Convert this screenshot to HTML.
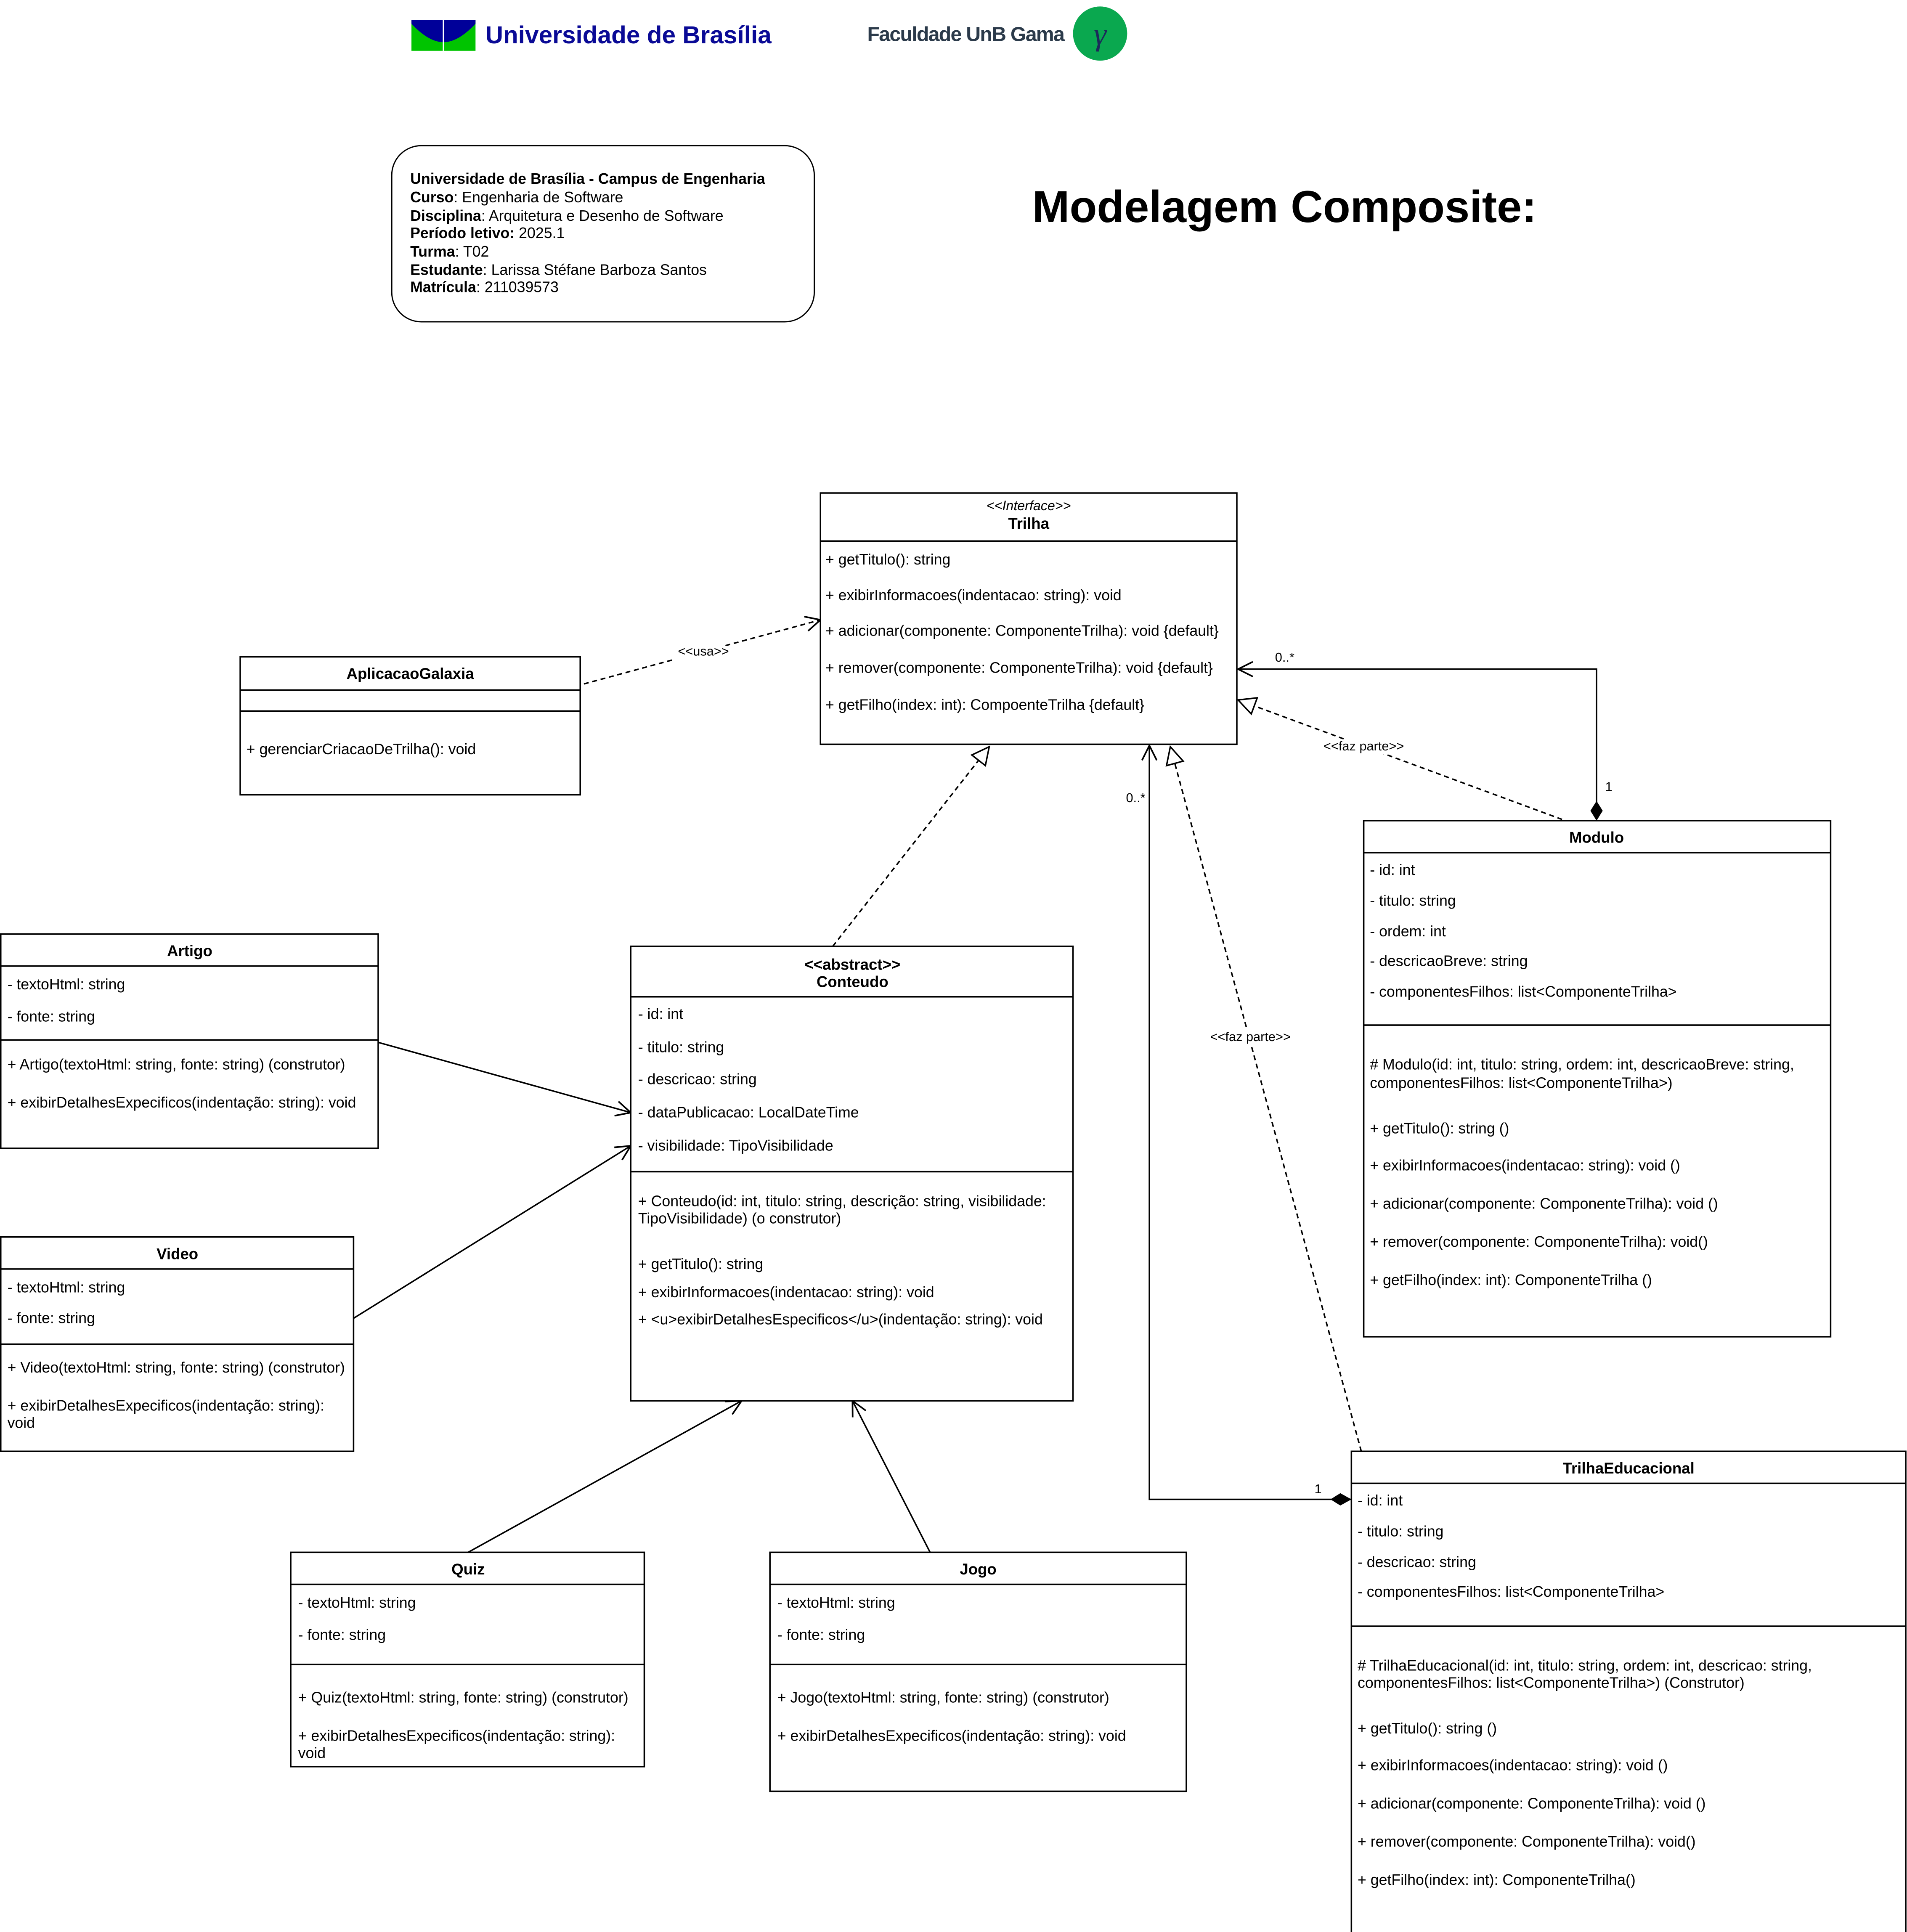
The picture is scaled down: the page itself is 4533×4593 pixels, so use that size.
<!DOCTYPE html>
<html><head><meta charset="utf-8"><style>
html,body{margin:0;padding:0;background:#fff;}
svg{display:block;}
text{font-family:"Liberation Sans",Arial,sans-serif;font-size:12.2px;fill:#000;}
.b{font-weight:bold;font-size:12.5px;}
.c{text-anchor:middle;}
.s{font-size:10.5px;}
</style></head><body>
<svg width="4533" height="4593" viewBox="0 0 1548 1568" xmlns="http://www.w3.org/2000/svg">
<defs>
<marker id="open" markerUnits="userSpaceOnUse" markerWidth="16" markerHeight="16" refX="13" refY="7" orient="auto" viewBox="0 0 16 14"><path d="M1,1 L13,7 L1,13" fill="none" stroke="#000" stroke-width="1.3"/></marker>
<marker id="tri" markerUnits="userSpaceOnUse" markerWidth="18" markerHeight="18" refX="15" refY="8" orient="auto" viewBox="0 0 18 16"><path d="M1,1 L15,8 L1,15 Z" fill="#fff" stroke="#000" stroke-width="1.2"/></marker>
</defs>
<rect width="1548" height="1568" fill="#fff"/>

<!-- logos -->
<rect x="334" y="16" width="52" height="25" fill="#00c400"/>
<path d="M334,16 L386,16 L386,19 Q372,34 360,34 Q348,34 334,19 Z" fill="#000099"/>
<line x1="360" y1="16" x2="360" y2="41" stroke="#fff" stroke-width="1.2"/>
<text x="394" y="35" style="font-size:20px;font-weight:bold;fill:#0a0a96">Universidade de Brasília</text>
<text x="704" y="33" style="font-size:16.5px;font-weight:bold;fill:#2b3a4a;letter-spacing:-0.6px">Faculdade UnB Gama</text>
<ellipse cx="893" cy="27" rx="22" ry="22" fill="#0aa84f"/>
<text x="893" y="36" class="c" style="font-size:26px;font-style:italic;fill:#1c2a5a;font-family:'Liberation Serif',serif">γ</text>

<!-- info box -->
<rect x="318" y="118" width="343" height="143" rx="24" fill="#fff" stroke="#000" stroke-width="1"/>
<text x="333" y="149"><tspan font-weight="bold">Universidade de Brasília - Campus de Engenharia</tspan></text>
<text x="333" y="164"><tspan font-weight="bold">Curso</tspan>: Engenharia de Software</text>
<text x="333" y="179"><tspan font-weight="bold">Disciplina</tspan>: Arquitetura e Desenho de Software</text>
<text x="333" y="193"><tspan font-weight="bold">Período letivo:</tspan> 2025.1</text>
<text x="333" y="208"><tspan font-weight="bold">Turma</tspan>: T02</text>
<text x="333" y="223"><tspan font-weight="bold">Estudante</tspan>: Larissa Stéfane Barboza Santos</text>
<text x="333" y="237"><tspan font-weight="bold">Matrícula</tspan>: 211039573</text>

<text x="838" y="180" style="font-size:36.3px;font-weight:bold">Modelagem Composite:</text>

<g fill="none" stroke="#000" stroke-width="1.2">
<path d="M474,555 L666,503" stroke-dasharray="4,3" marker-end="url(#open)"/>
<path d="M1296,665 L1296,543 L1005,543" marker-end="url(#open)"/>
<path d="M1268,665 L1005,568" stroke-dasharray="4,3" marker-end="url(#tri)"/>
<path d="M676,768 L803,606" stroke-dasharray="4,3" marker-end="url(#tri)"/>
<path d="M307,846 L512,903" marker-end="url(#open)"/>
<path d="M287,1070 L512,930" marker-end="url(#open)"/>
<path d="M380,1260 L602,1137" marker-end="url(#open)"/>
<path d="M755,1260 L692,1137" marker-end="url(#open)"/>
<path d="M1097,1217 L933,1217 L933,605" marker-end="url(#open)"/>
<path d="M1105,1178 L950,606" stroke-dasharray="4,3" marker-end="url(#tri)"/>
</g>
<rect x="548" y="524" width="46" height="12" fill="#fff"/>
<text x="571" y="532" class="c s">&lt;&lt;usa&gt;&gt;</text>
<rect x="1072" y="600" width="70" height="12" fill="#fff"/>
<text x="1107" y="609" class="c s">&lt;&lt;faz parte&gt;&gt;</text>
<rect x="980" y="836" width="70" height="12" fill="#fff"/>
<text x="1015" y="845" class="c s">&lt;&lt;faz parte&gt;&gt;</text>
<text x="1035" y="537" class="s">0..*</text>
<text x="1303" y="642" class="s">1</text>
<text x="914" y="651" class="s">0..*</text>
<text x="1067" y="1212" class="s">1</text>

<g fill="#fff" stroke="#000" stroke-width="1.2">
<rect x="666" y="400" width="338" height="204"/>
<line x1="666" y1="439" x2="1004" y2="439"/>
<rect x="195" y="533" width="276" height="112"/>
<line x1="195" y1="560" x2="471" y2="560"/>
<line x1="195" y1="577" x2="471" y2="577"/>
<rect x="1107" y="666" width="379" height="419"/>
<line x1="1107" y1="692" x2="1486" y2="692"/>
<line x1="1107" y1="832" x2="1486" y2="832"/>
<rect x="512" y="768" width="359" height="369"/>
<line x1="512" y1="809" x2="871" y2="809"/>
<line x1="512" y1="951" x2="871" y2="951"/>
<rect x="0.6" y="758" width="306.4" height="174"/>
<line x1="0" y1="784" x2="307" y2="784"/>
<line x1="0" y1="844" x2="307" y2="844"/>
<rect x="0.6" y="1004" width="286.4" height="174"/>
<line x1="0" y1="1030" x2="287" y2="1030"/>
<line x1="0" y1="1091" x2="287" y2="1091"/>
<rect x="236" y="1260" width="287" height="174"/>
<line x1="236" y1="1286" x2="523" y2="1286"/>
<line x1="236" y1="1351" x2="523" y2="1351"/>
<rect x="625" y="1260" width="338" height="194"/>
<line x1="625" y1="1286" x2="963" y2="1286"/>
<line x1="625" y1="1351" x2="963" y2="1351"/>
<rect x="1097" y="1178" width="450" height="392"/>
<line x1="1097" y1="1204" x2="1547" y2="1204"/>
<line x1="1097" y1="1320" x2="1547" y2="1320"/>
</g>
<path d="M1296,650 L1301,658 L1296,666 L1291,658 Z" fill="#000"/>
<path d="M1080,1217 L1088,1212 L1097,1217 L1088,1222 Z" fill="#000"/>

<text x="835" y="414" class="c" style="font-size:11px" font-style="italic">&lt;&lt;Interface&gt;&gt;</text>
<text x="835" y="429" class="c b">Trilha</text>
<text x="670" y="458">+ getTitulo(): string</text>
<text x="670" y="487">+ exibirInformacoes(indentacao: string): void</text>
<text x="670" y="516">+ adicionar(componente: ComponenteTrilha): void {default}</text>
<text x="670" y="546">+ remover(componente: ComponenteTrilha): void {default}</text>
<text x="670" y="576">+ getFilho(index: int): CompoenteTrilha {default}</text>

<text x="333" y="551" class="c b">AplicacaoGalaxia</text>
<text x="200" y="612">+ gerenciarCriacaoDeTrilha(): void</text>

<text x="1296" y="684" class="c b">Modulo</text>
<text x="1112" y="710">- id: int</text>
<text x="1112" y="735">- titulo: string</text>
<text x="1112" y="760">- ordem: int</text>
<text x="1112" y="784">- descricaoBreve: string</text>
<text x="1112" y="809">- componentesFilhos: list&lt;ComponenteTrilha&gt;</text>
<text x="1112" y="868"># Modulo(id: int, titulo: string, ordem: int, descricaoBreve: string,</text>
<text x="1112" y="883">componentesFilhos: list&lt;ComponenteTrilha&gt;)</text>
<text x="1112" y="920">+ getTitulo(): string ()</text>
<text x="1112" y="950">+ exibirInformacoes(indentacao: string): void ()</text>
<text x="1112" y="981">+ adicionar(componente: ComponenteTrilha): void ()</text>
<text x="1112" y="1012">+ remover(componente: ComponenteTrilha): void()</text>
<text x="1112" y="1043">+ getFilho(index: int): ComponenteTrilha ()</text>

<text x="692" y="787" class="c b">&lt;&lt;abstract&gt;&gt;</text>
<text x="692" y="801" class="c b">Conteudo</text>
<text x="518" y="827">- id: int</text>
<text x="518" y="854">- titulo: string</text>
<text x="518" y="880">- descricao: string</text>
<text x="518" y="907">- dataPublicacao: LocalDateTime</text>
<text x="518" y="934">- visibilidade: TipoVisibilidade</text>
<text x="518" y="979">+ Conteudo(id: int, titulo: string, descrição: string, visibilidade:</text>
<text x="518" y="993">TipoVisibilidade) (o construtor)</text>
<text x="518" y="1030">+ getTitulo(): string</text>
<text x="518" y="1053">+ exibirInformacoes(indentacao: string): void</text>
<text x="518" y="1075">+ &lt;u&gt;exibirDetalhesEspecificos&lt;/u&gt;(indentação: string): void</text>

<text x="154" y="776" class="c b">Artigo</text>
<text x="6" y="803">- textoHtml: string</text>
<text x="6" y="829">- fonte: string</text>
<text x="6" y="868">+ Artigo(textoHtml: string, fonte: string) (construtor)</text>
<text x="6" y="899">+ exibirDetalhesExpecificos(indentação: string): void</text>

<text x="144" y="1022" class="c b">Video</text>
<text x="6" y="1049">- textoHtml: string</text>
<text x="6" y="1074">- fonte: string</text>
<text x="6" y="1114">+ Video(textoHtml: string, fonte: string) (construtor)</text>
<text x="6" y="1145">+ exibirDetalhesExpecificos(indentação: string):</text>
<text x="6" y="1159">void</text>

<text x="380" y="1278" class="c b">Quiz</text>
<text x="242" y="1305">- textoHtml: string</text>
<text x="242" y="1331">- fonte: string</text>
<text x="242" y="1382">+ Quiz(textoHtml: string, fonte: string) (construtor)</text>
<text x="242" y="1413">+ exibirDetalhesExpecificos(indentação: string):</text>
<text x="242" y="1427">void</text>

<text x="794" y="1278" class="c b">Jogo</text>
<text x="631" y="1305">- textoHtml: string</text>
<text x="631" y="1331">- fonte: string</text>
<text x="631" y="1382">+ Jogo(textoHtml: string, fonte: string) (construtor)</text>
<text x="631" y="1413">+ exibirDetalhesExpecificos(indentação: string): void</text>

<text x="1322" y="1196" class="c b">TrilhaEducacional</text>
<text x="1102" y="1222">- id: int</text>
<text x="1102" y="1247">- titulo: string</text>
<text x="1102" y="1272">- descricao: string</text>
<text x="1102" y="1296">- componentesFilhos: list&lt;ComponenteTrilha&gt;</text>
<text x="1102" y="1356"># TrilhaEducacional(id: int, titulo: string, ordem: int, descricao: string,</text>
<text x="1102" y="1370">componentesFilhos: list&lt;ComponenteTrilha&gt;) (Construtor)</text>
<text x="1102" y="1407">+ getTitulo(): string ()</text>
<text x="1102" y="1437">+ exibirInformacoes(indentacao: string): void ()</text>
<text x="1102" y="1468">+ adicionar(componente: ComponenteTrilha): void ()</text>
<text x="1102" y="1499">+ remover(componente: ComponenteTrilha): void()</text>
<text x="1102" y="1530">+ getFilho(index: int): ComponenteTrilha()</text>
</svg>
</body></html>
